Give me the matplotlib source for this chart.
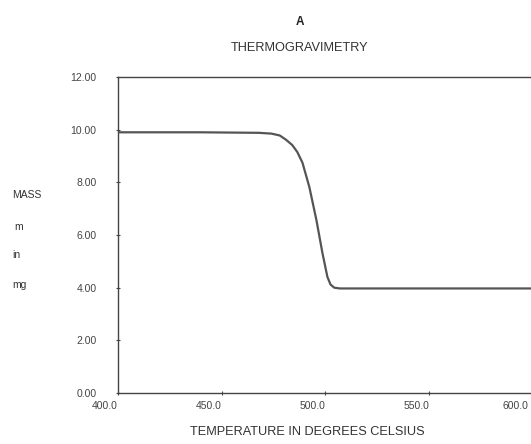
import matplotlib
matplotlib.use("Agg")
import matplotlib.pyplot as plt
import matplotlib.transforms as mtransforms

plt.rcParams['font.family'] = ['Liberation Sans', 'DejaVu Sans']

# Data
temperature = [400.0, 440.0, 468.0, 474.0, 478.0, 481.0, 484.0, 486.5, 489.0, 492.3, 495.7, 498.6, 501.0, 502.5, 504.3, 507.0, 550.0, 605.0]
mass = [9.90, 9.90, 9.88, 9.85, 9.78, 9.62, 9.42, 9.15, 8.74, 7.82, 6.57, 5.32, 4.41, 4.12, 4.00, 3.97, 3.97, 3.97]

x_ticks = [400.0, 450.0, 500.0, 550.0, 600.0]
y_ticks = [0.0, 2.0, 4.0, 6.0, 8.0, 10.0, 12.0]

fig = plt.figure(figsize=(5.31, 4.44), dpi=100)
ax = fig.add_axes([118/531, 51/444, (543-118)/531, 316/444])
ax.plot(temperature, mass, color='#555555', lw=1.6, solid_capstyle='round')
ax.set_xlim(400, 605)
ax.set_ylim(0, 12)
ax.set_xticks(x_ticks)
ax.set_xticklabels([f"{v:.1f}" for v in x_ticks], ha='right')
ax.set_yticks(y_ticks)
ax.set_yticklabels([f"{v:.2f}" for v in y_ticks])
ax.tick_params(axis='both', labelsize=7.5, colors='#444444', length=3, width=0.8, direction='inout')
ax.tick_params(axis='y', pad=14)
ax.tick_params(axis='x', pad=4)
for s in ['top', 'left', 'bottom', 'right']:
    ax.spines[s].set_color('#444444')
    ax.spines[s].set_linewidth(1.0)

# keep the last x label inside the figure
last = ax.get_xticklabels()[-1]
last.set_transform(last.get_transform() + mtransforms.ScaledTranslation(-4/100, 0, fig.dpi_scale_trans))

fig.text(300/531, 1 - 22/444, 'A', ha='center', va='center', fontsize=8.5, fontweight='bold', color='#222222')
fig.text(300/531, 1 - 48/444, 'THERMOGRAVIMETRY', ha='center', va='center', fontsize=9.2, color='#333333')
fig.text(307/531, 1 - 432/444, 'TEMPERATURE IN DEGREES CELSIUS', ha='center', va='center', fontsize=9.2, color='#333333')
fig.text(12/531, 1 - 195/444, 'MASS', ha='left', va='center', fontsize=7.5, color='#333333')
fig.text(14/531, 1 - 227/444, 'm', ha='left', va='center', fontsize=7.5, color='#333333')
fig.text(12/531, 1 - 255/444, 'in', ha='left', va='center', fontsize=7.5, color='#333333')
fig.text(12/531, 1 - 285/444, 'mg', ha='left', va='center', fontsize=7.5, color='#333333')

fig.savefig('out.png', dpi=100)
